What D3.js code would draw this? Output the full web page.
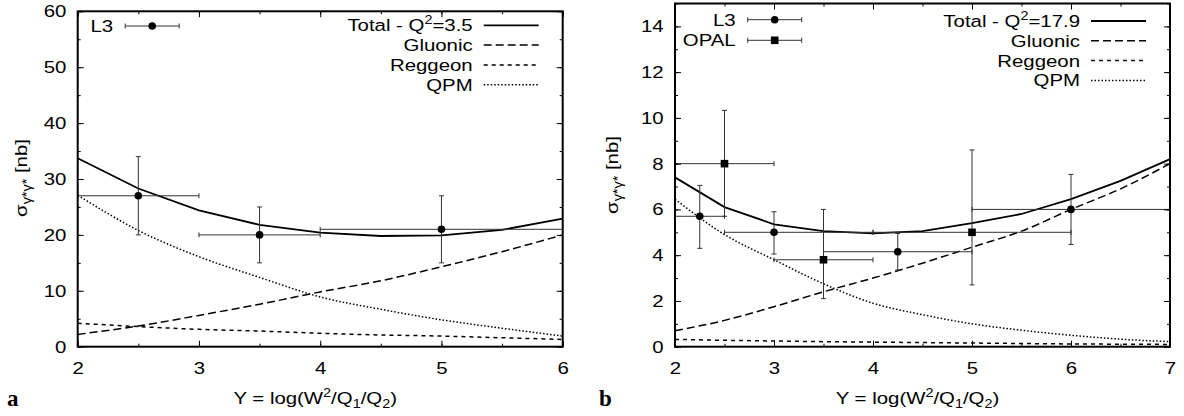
<!DOCTYPE html>
<html lang="en">
<head>
<meta charset="UTF-8">
<title>sigma gamma* gamma*</title>
<script src="https://cdn.jsdelivr.net/npm/d3@7/dist/d3.min.js"></script>
<style>
    body { margin: 0; background: #fff; }
    svg { display: block; }
    .tick line { stroke: #000; stroke-width: 1; }
</style>
</head>
<body>
<svg id="chart"></svg>
<script>
// ---- data ----
// panel a (Q^2 = 3.5)
var aY = [2, 2.5, 3, 3.5, 4, 4.5, 5, 5.5, 6];
var aTotal = [33.7, 28.3, 24.4, 21.8, 20.4, 19.8, 19.9, 20.9, 22.9];
var aGluonic = [2.2, 3.7, 5.6, 7.6, 9.8, 11.8, 14.3, 17.0, 20.0];
var aReggeon = [4.2, 3.6, 3.1, 2.8, 2.4, 2.1, 1.9, 1.6, 1.3];
var aQPM = [27.1, 20.8, 16.1, 12.4, 8.9, 6.7, 4.8, 3.3, 1.9];
// [x, y, xlow, xhigh, ylow, yhigh]
var aL3 = [[2.5, 27, 2, 3, 20, 34], [3.5, 20, 3, 4, 15, 25], [5, 21, 4, 6, 15, 27]];

// panel b (Q^2 = 17.9)
var bY = [2, 2.5, 3, 3.5, 4, 4.5, 5, 5.5, 6, 6.5, 7];
var bTotal = [7.4, 6.1, 5.35, 5.05, 4.95, 5.05, 5.4, 5.8, 6.45, 7.25, 8.2];
var bGluonic = [0.7, 1.15, 1.75, 2.4, 3.0, 3.65, 4.35, 5.05, 6.0, 6.9, 8.0];
var bReggeon = [0.32, 0.28, 0.25, 0.22, 0.2, 0.18, 0.16, 0.14, 0.12, 0.11, 0.1];
var bQPM = [6.45, 4.9, 3.8, 2.75, 1.9, 1.4, 1.0, 0.72, 0.5, 0.33, 0.22];
var bL3 = [[2.25, 5.7, 2, 2.5, 4.3, 7.05], [3, 5.0, 2.5, 4, 4.05, 5.9], [4.25, 4.15, 3.5, 5, 3.35, 4.95], [6, 6.0, 5, 7, 4.47, 7.53]];
var bOPAL = [[2.5, 8.0, 2, 3, 5.7, 10.33], [3.5, 3.8, 3, 4, 2.1, 6.0], [5, 5.0, 4, 6, 2.7, 8.6]];

var curveNames = ['Gluonic', 'Reggeon', 'QPM'];

var width = 1184, height = 416;
var FONT = 'Liberation Sans, Arial, Helvetica, sans-serif';
var SX = 1.2;   // the reference lettering is stretched sideways

var svg = d3.select('#chart').attr('width', width).attr('height', height);

var styles = {
    Total:   { dash: null,  w: 1.8 },
    Gluonic: { dash: '8,4', w: 1.5 },
    Reggeon: { dash: '4,4', w: 1.5 },
    QPM:     { dash: '1.5,2', w: 1.5 }
};

// text with optional sup/sub parts, stretched like the original
function stext(parent, x, y, anchor, parts, size, rot) {
    var g = parent.append('g')
        .attr('transform', 'translate(' + x + ',' + y + ')' + (rot ? ' rotate(' + rot + ')' : '') + ' scale(' + SX + ',1)');
    var t = g.append('text')
        .attr('text-anchor', anchor)
        .attr('font-family', FONT)
        .attr('font-size', size || 17);
    var shift = 0;
    parts.forEach(function (p) {
        var s = typeof p === 'string' ? [p, ''] : p;
        var target = s[1] === 'sup' ? -7 : (s[1] === 'sub' ? 4 : 0);
        t.append('tspan')
            .attr('dy', target - shift)
            .attr('font-size', s[1] ? (s[2] || 12) : (size || 17))
            .text(s[0]);
        shift = target;
    });
    return g;
}

function drawPanel(p) {
    var x = d3.scaleLinear().domain(p.xdom).range([p.left, p.right]);
    var y = d3.scaleLinear().domain(p.ydom).range([p.bottom, p.top]);
    var g = svg.append('g');

    // curves
    var series = [['Gluonic', p.gluonic], ['Reggeon', p.reggeon], ['QPM', p.qpm], ['Total', p.total]];
    series.forEach(function (s) {
        var pts = p.xs.map(function (v, i) { return [v, s[1][i]]; });
        var line = d3.line()
            .x(function (d) { return x(d[0]); })
            .y(function (d) { return y(d[1]); })
            .curve(s[0] === 'Total' ? d3.curveLinear : d3.curveMonotoneX);
        g.append('path')
            .attr('d', line(pts))
            .attr('fill', 'none')
            .attr('stroke', '#000')
            .attr('stroke-width', styles[s[0]].w)
            .attr('stroke-dasharray', styles[s[0]].dash);
    });

    // error bars + markers
    function errbars(data, shape) {
        var eb = g.append('g').attr('stroke', '#333').attr('stroke-width', 1).attr('fill', 'none');
        data.forEach(function (d) {
            var cx = x(d[0]), cy = y(d[1]);
            eb.append('line').attr('x1', x(d[2])).attr('x2', x(d[3])).attr('y1', cy).attr('y2', cy);
            eb.append('line').attr('x1', cx).attr('x2', cx).attr('y1', y(d[4])).attr('y2', y(d[5]));
            [d[2], d[3]].forEach(function (v) {
                eb.append('line').attr('x1', x(v)).attr('x2', x(v)).attr('y1', cy - 2.5).attr('y2', cy + 2.5);
            });
            [d[4], d[5]].forEach(function (v) {
                eb.append('line').attr('x1', cx - 2.5).attr('x2', cx + 2.5).attr('y1', y(v)).attr('y2', y(v));
            });
            marker(g, cx, cy, shape);
        });
    }
    errbars(p.l3, 'circle');
    if (p.opal) errbars(p.opal, 'square');

    // frame and ticks (mirrored, pointing in)
    var xMinor = d3.range(p.xdom[0], p.xdom[1] + 0.01, 0.5);
    var yMinor = d3.range(p.ydom[0], p.ydom[1] + 0.01, p.ystep / 2);
    var xMajor = d3.range(p.xdom[0], p.xdom[1] + 0.01, 1);
    var yMajor = d3.range(p.ydom[0], p.yMaxTick + 0.01, p.ystep);

    function axisPair(axisFn, scale, pos, vals, size, labels, pad) {
        var a = axisFn(scale).tickValues(vals).tickSize(-size).tickPadding(pad || 0);
        a.tickFormat(labels ? d3.format('d') : '');
        var ag = g.append('g').attr('transform', pos).call(a)
            .attr('font-family', FONT).attr('font-size', 17);
        ag.select('.domain').remove();
        return ag;
    }
    var bx = 'translate(0,' + p.bottom + ')', tx = 'translate(0,' + p.top + ')';
    var lx = 'translate(' + p.left + ',0)', rx = 'translate(' + p.right + ',0)';
    axisPair(d3.axisBottom, x, bx, xMinor, 3);
    axisPair(d3.axisTop, x, tx, xMinor, 3);
    axisPair(d3.axisLeft, y, lx, yMinor, 3);
    axisPair(d3.axisRight, y, rx, yMinor, 3);
    var xb = axisPair(d3.axisBottom, x, bx, xMajor, 6, true, 15);
    axisPair(d3.axisTop, x, tx, xMajor, 6);
    var yl = axisPair(d3.axisLeft, y, lx, yMajor, 6, true, 9.5);
    axisPair(d3.axisRight, y, rx, yMajor, 6);
    xb.selectAll('text').attr('transform', 'scale(' + SX + ',1)').attr('fill', '#000');
    yl.selectAll('text').attr('transform', 'scale(' + SX + ',1)').attr('fill', '#000');

    g.append('rect')
        .attr('x', p.left).attr('y', p.top)
        .attr('width', p.right - p.left).attr('height', p.bottom - p.top)
        .attr('fill', 'none').attr('stroke', '#000').attr('stroke-width', 2);

    // axis titles
    stext(g, (p.left + p.right) / 2 - 5, 404, 'middle',
        ['Y = log(W', ['2', 'sup'], '/Q', ['1', 'sub'], '/Q', ['2', 'sub'], ')']);
    stext(g, p.ylabX, p.ylabY, 'middle',
        ['\u03c3', ['\u03b3*\u03b3*', 'sub', 12], ' [nb]'], 17, -90);

    g.append('text')
        .attr('x', p.tagX).attr('y', 406)
        .attr('font-family', 'Liberation Serif, Times New Roman, serif')
        .attr('font-weight', 'bold').attr('font-size', 23)
        .text(p.tag);

    // key: curves (right side)
    var keyLabels = [['Total - Q', ['2', 'sup'], '=' + p.q2]].concat(curveNames.map(function (n) { return [n]; }));
    var keyStyles = ['Total'].concat(curveNames);
    keyLabels.forEach(function (lab, i) {
        var ky = p.keyTop + i * 19.8;
        stext(g, p.right - 90, ky + 6, 'end', lab);
        g.append('line')
            .attr('x1', p.right - 79).attr('x2', p.right - 24)
            .attr('y1', ky).attr('y2', ky)
            .attr('stroke', '#000')
            .attr('stroke-width', styles[keyStyles[i]].w)
            .attr('stroke-dasharray', styles[keyStyles[i]].dash);
    });

    // key: data sets (left side)
    p.dataKeys.forEach(function (k, i) {
        var ky = p.dataKeyTop + i * 20.6;
        stext(g, p.left + k.textEnd, ky + 6, 'end', [k.name]);
        var x1 = p.left + k.textEnd + 12, x2 = x1 + 54;
        var kg = g.append('g').attr('stroke', '#333').attr('stroke-width', 1);
        kg.append('line').attr('x1', x1).attr('x2', x2).attr('y1', ky).attr('y2', ky);
        [x1, x2].forEach(function (v) {
            kg.append('line').attr('x1', v).attr('x2', v).attr('y1', ky - 2.5).attr('y2', ky + 2.5);
        });
        marker(g, (x1 + x2) / 2, ky, k.shape);
    });
}

function marker(g, cx, cy, shape) {
    if (shape === 'circle') {
        g.append('circle').attr('cx', cx).attr('cy', cy).attr('r', 3.8).attr('fill', '#000');
    } else {
        g.append('rect').attr('x', cx - 3.8).attr('y', cy - 3.8).attr('width', 7.6).attr('height', 7.6).attr('fill', '#000');
    }
}

drawPanel({
    left: 77.7, right: 562.7, top: 11.3, bottom: 346.7,
    xdom: [2, 6], ydom: [0, 60], ystep: 10, yMaxTick: 60,
    xs: aY, total: aTotal, gluonic: aGluonic, reggeon: aReggeon, qpm: aQPM,
    l3: aL3, opal: null, q2: '3.5',
    keyTop: 25.3,
    dataKeyTop: 26, dataKeys: [{ name: 'L3', textEnd: 35.5, shape: 'circle' }],
    ylabX: 27, ylabY: 178, tag: 'a', tagX: 7
});

drawPanel({
    left: 675, right: 1170, top: 3.5, bottom: 346.7,
    xdom: [2, 7], ydom: [0, 15], ystep: 2, yMaxTick: 14,
    xs: bY, total: bTotal, gluonic: bGluonic, reggeon: bReggeon, qpm: bQPM,
    l3: bL3, opal: bOPAL, q2: '17.9',
    keyTop: 21,
    dataKeyTop: 19.7, dataKeys: [{ name: 'L3', textEnd: 60.7, shape: 'circle' }, { name: 'OPAL', textEnd: 60.7, shape: 'square' }],
    ylabX: 618, ylabY: 175, tag: 'b', tagX: 599
});
</script>
</body>
</html>
